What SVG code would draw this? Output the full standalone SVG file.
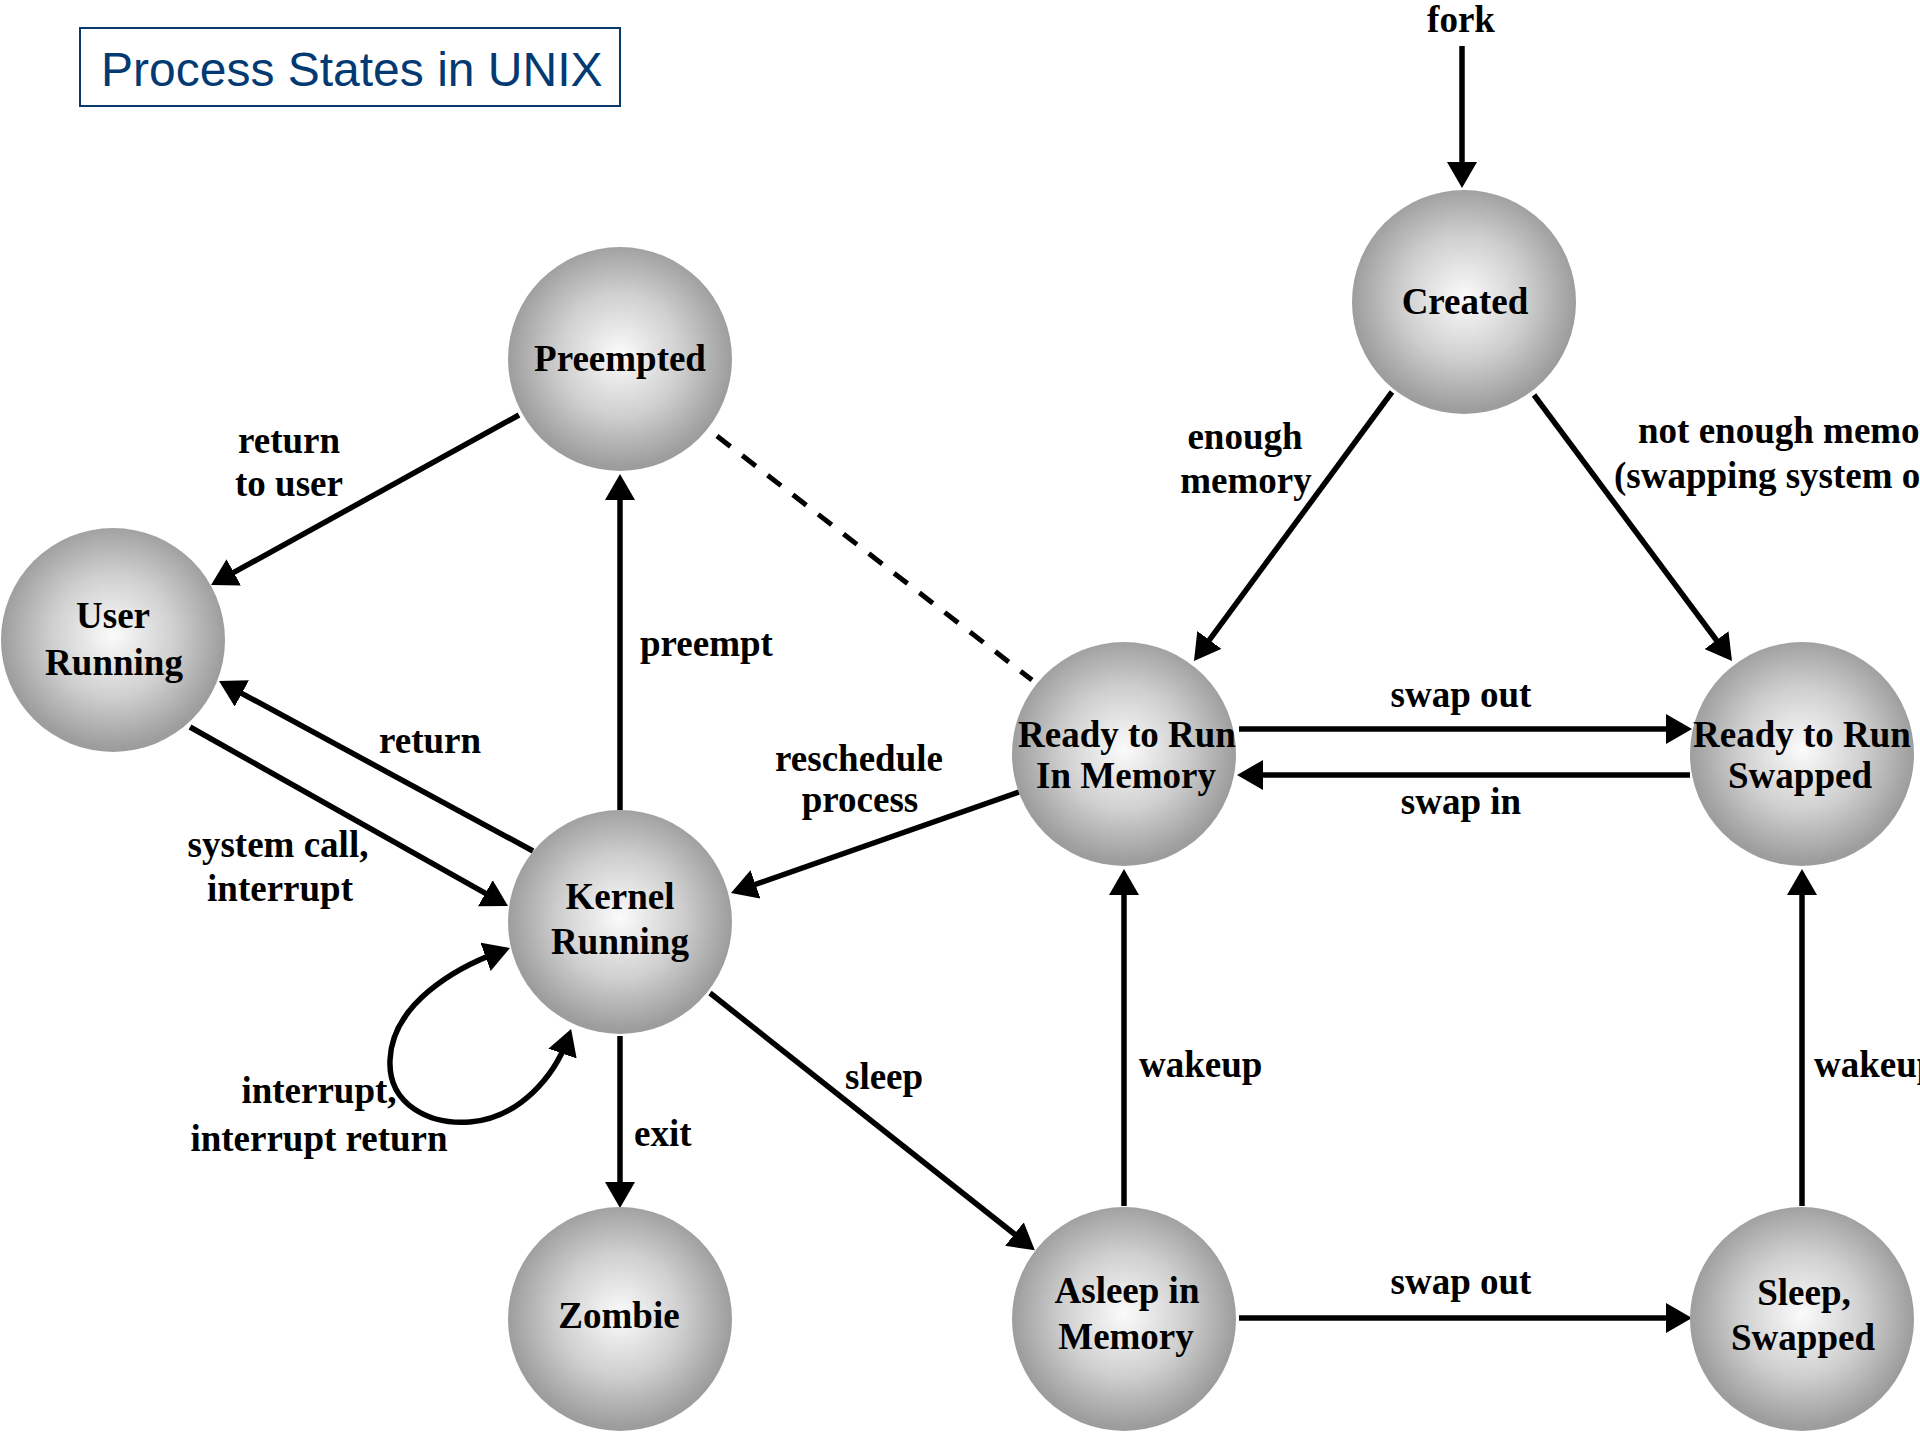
<svg xmlns="http://www.w3.org/2000/svg" width="1920" height="1440" viewBox="0 0 1920 1440">
<defs>
<radialGradient id="ball" cx="50%" cy="48%" r="50%">
<stop offset="0" stop-color="#fbfbfb"/>
<stop offset="0.55" stop-color="#cfcfcf"/>
<stop offset="1" stop-color="#9d9d9d"/>
</radialGradient>
<marker id="ah" markerUnits="userSpaceOnUse" viewBox="0 0 26 30" markerWidth="26" markerHeight="30" refX="16" refY="15" orient="auto-start-reverse">
<path d="M0,0 L26,15 L0,30 z" fill="#000"/>
</marker>
<style>
.n { fill: url(#ball); }
.t { font-family: "Liberation Serif", "Times New Roman", serif; font-size: 37px; font-weight: bold; fill: #000; }
.m { text-anchor: middle; }
.e { stroke: #000; stroke-width: 5.5; fill: none; marker-end: url(#ah); }
.d { stroke: #000; stroke-width: 5; fill: none; stroke-dasharray: 17 15; }
</style>
</defs>
<rect width="1920" height="1440" fill="#fff"/>

<g id="title">
<rect x="80" y="28" width="540" height="78" fill="#fff" stroke="#0a3a6c" stroke-width="2"/>
<text x="101" y="86" font-family="Liberation Sans, Arial, sans-serif" font-size="48" fill="#033a72">Process States in UNIX</text>
</g>

<g id="connectors">
<path class="e" d="M1462,46 L1462,178"/>
<path class="e" d="M1392,392 L1199.9,652.9"/>
<path class="e" d="M1534,395 L1726,653"/>
<path class="e" d="M1239,729 L1682,729"/>
<path class="e" d="M1690,775 L1247,775"/>
<path class="e" d="M1124,1206 L1124,879"/>
<path class="e" d="M1802,1206 L1802,879"/>
<path class="e" d="M1239,1318 L1682,1318"/>
<path class="e" d="M710,993 L1027,1244"/>
<path class="e" d="M620,1036 L620,1198"/>
<path class="e" d="M1019,792 L740.4,889.7"/>
<path class="e" d="M620,810 L620,484"/>
<path class="e" d="M533,851 L227.8,685.8"/>
<path class="e" d="M190,727 L499.3,901.1"/>
<path class="e" d="M519,415 L219.8,580.2"/>
<path class="d" d="M717,436 L1032,680"/>
<path class="e" style="marker-start:url(#ah)" d="M500.6,951.4 C453.6,968.4 392,1005 390,1060 C388,1105 430,1125 470,1122 C520,1118 555,1075 567.8,1038.5"/>
</g>

<g id="edge-labels" class="t">
<text class="m" x="1461" y="32">fork</text>
<text class="m" x="289" y="453">return</text>
<text class="m" x="289" y="496">to user</text>
<text class="m" x="1245" y="449">enough</text>
<text class="m" x="1246" y="493">memory</text>
<text x="1638" y="443">not enough memory</text>
<text x="1614" y="488">(swapping system only)</text>
<text x="640" y="656">preempt</text>
<text class="m" x="430" y="753">return</text>
<text class="m" x="859" y="771">reschedule</text>
<text class="m" x="860" y="812">process</text>
<text class="m" x="278" y="857">system call,</text>
<text class="m" x="280" y="901">interrupt</text>
<text class="m" x="319" y="1103">interrupt,</text>
<text class="m" x="319" y="1151">interrupt return</text>
<text x="634" y="1146">exit</text>
<text x="845" y="1089">sleep</text>
<text class="m" x="1461" y="707">swap out</text>
<text class="m" x="1461" y="814">swap in</text>
<text x="1139" y="1077">wakeup</text>
<text x="1814" y="1077">wakeup</text>
<text class="m" x="1461" y="1294">swap out</text>
</g>

<g id="node-preempted">
<circle class="n" cx="620" cy="359" r="112"/>
<text class="t m" x="620" y="371">Preempted</text>
</g>
<g id="node-created">
<circle class="n" cx="1464" cy="302" r="112"/>
<text class="t m" x="1465" y="314">Created</text>
</g>
<g id="node-user-running">
<circle class="n" cx="113" cy="640" r="112"/>
<text class="t m" x="113" y="628">User</text>
<text class="t m" x="114" y="675">Running</text>
</g>
<g id="node-kernel-running">
<circle class="n" cx="620" cy="922" r="112"/>
<text class="t m" x="620" y="909">Kernel</text>
<text class="t m" x="620" y="954">Running</text>
</g>
<g id="node-zombie">
<circle class="n" cx="620" cy="1319" r="112"/>
<text class="t m" x="619" y="1328">Zombie</text>
</g>
<g id="node-ready-memory">
<circle class="n" cx="1124" cy="754" r="112"/>
<text class="t m" x="1127" y="747">Ready to Run</text>
<text class="t m" x="1126" y="788">In Memory</text>
</g>
<g id="node-ready-swapped">
<circle class="n" cx="1802" cy="754" r="112"/>
<text class="t m" x="1802" y="747">Ready to Run</text>
<text class="t m" x="1800" y="788">Swapped</text>
</g>
<g id="node-asleep-memory">
<circle class="n" cx="1124" cy="1319" r="112"/>
<text class="t m" x="1127" y="1303">Asleep in</text>
<text class="t m" x="1126" y="1349">Memory</text>
</g>
<g id="node-sleep-swapped">
<circle class="n" cx="1802" cy="1319" r="112"/>
<text class="t m" x="1804" y="1305">Sleep,</text>
<text class="t m" x="1803" y="1350">Swapped</text>
</g>
</svg>
